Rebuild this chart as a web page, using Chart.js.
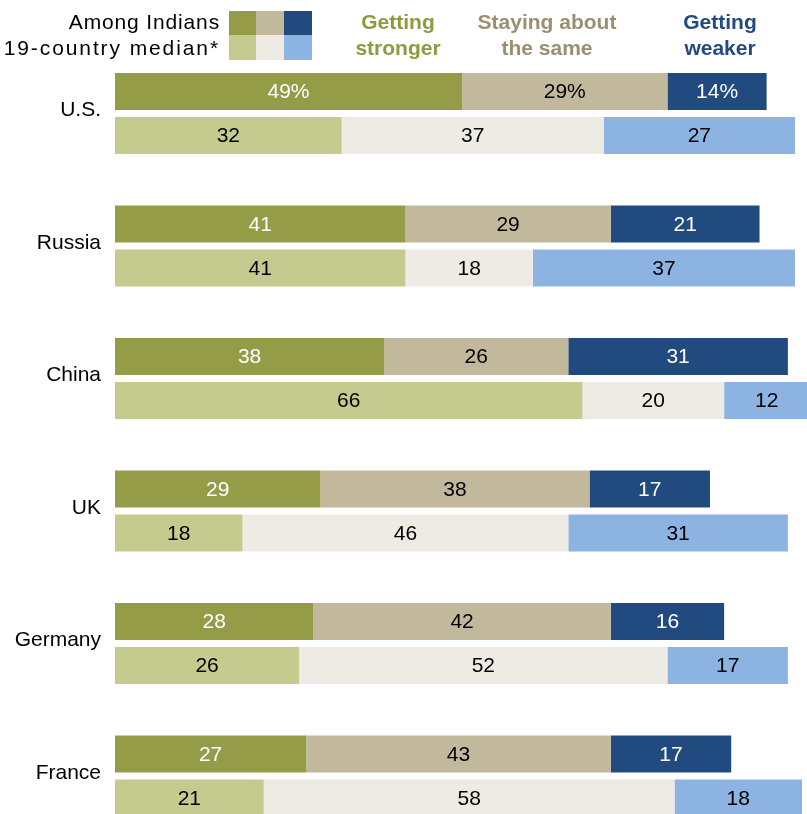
<!DOCTYPE html>
<html>
<head>
<meta charset="utf-8">
<script src="https://cdn.jsdelivr.net/npm/chart.js@4"></script>
<style>
  body { margin: 0; background: #fff; }
  #wrap { position: relative; width: 807px; height: 814px; overflow: hidden; font-family: "Liberation Sans", sans-serif; }
  #chart { position: absolute; left: 0; top: 0; }
  .lbl { position: absolute; font-size: 21px; line-height: 26px; color: #000; text-align: right; white-space: nowrap; }
  .hdr { position: absolute; font-size: 21px; line-height: 26px; font-weight: bold; text-align: center; }
  .sw { position: absolute; width: 28px; height: 25px; }
</style>
</head>
<body>
<div id="wrap">
  <canvas id="chart" width="807" height="814"></canvas>
  <div class="lbl" style="right:587px; top:9px; letter-spacing:0.85px;">Among Indians</div>
  <div class="lbl" style="right:587px; top:35px; letter-spacing:1.9px;">19-country median*</div>
  <div class="sw" style="left:229px; top:11px; background:#949C48;"></div>
  <div class="sw" style="left:256px; top:11px; background:#C2B99C;"></div>
  <div class="sw" style="left:284px; top:11px; background:#214A7E;"></div>
  <div class="sw" style="left:229px; top:35px; background:#C5CB8E;"></div>
  <div class="sw" style="left:256px; top:35px; background:#EEEBE4;"></div>
  <div class="sw" style="left:284px; top:35px; background:#8DB3E2;"></div>
  <div class="hdr" style="left:338px; width:120px; top:9px; color:#8E9A3F;">Getting<br>stronger</div>
  <div class="hdr" style="left:467px; width:160px; top:9px; color:#9A9070;">Staying about<br>the same</div>
  <div class="hdr" style="left:660px; width:120px; top:9px; color:#214A7E;">Getting<br>weaker</div>
</div>
<script>
// Países y valores (%)
const countries = ['U.S.', 'Russia', 'China', 'UK', 'Germany', 'France'];

const indStronger = [49, 41, 38, 29, 28, 27];
const indSame = [29, 29, 26, 38, 42, 43];
const indWeaker = [14, 21, 31, 17, 16, 17];

const medStronger = [32, 41, 66, 18, 26, 21];
const medSame = [37, 18, 20, 46, 52, 58];
const medWeaker = [27, 37, 12, 31, 17, 18];

function ds(data, color, stack, textColor) {
    return {
        data: data,
        backgroundColor: color,
        borderWidth: 0,
        stack: stack,
        clip: false,
        textColor: textColor
    };
}

// Etiquetas de valores dentro de las barras
const barLabels = {
    id: 'barLabels',
    afterDatasetsDraw(chart) {
        const ctx = chart.ctx;
        ctx.save();
        ctx.font = '21px "Liberation Sans", sans-serif';
        ctx.textAlign = 'center';
        ctx.textBaseline = 'middle';
        chart.data.datasets.forEach((d, i) => {
            const meta = chart.getDatasetMeta(i);
            meta.data.forEach((bar, j) => {
                let txt = String(d.data[j]);
                if (j === 0 && d.stack === 'ind') txt += '%';
                const cx = (bar.x + bar.base) / 2;
                ctx.fillStyle = d.textColor;
                ctx.fillText(txt, cx, bar.y + 1);
            });
        });
        ctx.restore();
    }
};

const ctx = document.getElementById('chart').getContext('2d');
new Chart(ctx, {
    type: 'bar',
    data: {
        labels: countries,
        datasets: [
            ds(indStronger, '#949C48', 'ind', '#fff'),
            ds(indSame, '#C2B99C', 'ind', '#000'),
            ds(indWeaker, '#214A7E', 'ind', '#fff'),
            ds(medStronger, '#C5CB8E', 'med', '#000'),
            ds(medSame, '#EEEBE4', 'med', '#000'),
            ds(medWeaker, '#8DB3E2', 'med', '#000')
        ]
    },
    options: {
        indexAxis: 'y',
        responsive: false,
        animation: false,
        categoryPercentage: 0.664,
        barPercentage: 0.84,
        layout: {
            padding: { top: 113.5, bottom: 38, left: 0, right: 0 }
        },
        plugins: {
            legend: { display: false },
            tooltip: { enabled: false }
        },
        scales: {
            x: {
                display: false,
                stacked: true,
                min: 0,
                max: 97.7
            },
            y: {
                stacked: true,
                offset: false,
                grid: { display: false, drawTicks: false },
                border: { display: false },
                ticks: {
                    color: '#000',
                    padding: 14,
                    labelOffset: -3,
                    font: { family: '"Liberation Sans", sans-serif', size: 21 }
                },
                afterFit(scale) {
                    scale.width = 115;
                }
            }
        }
    },
    plugins: [barLabels]
});
</script>
</body>
</html>
